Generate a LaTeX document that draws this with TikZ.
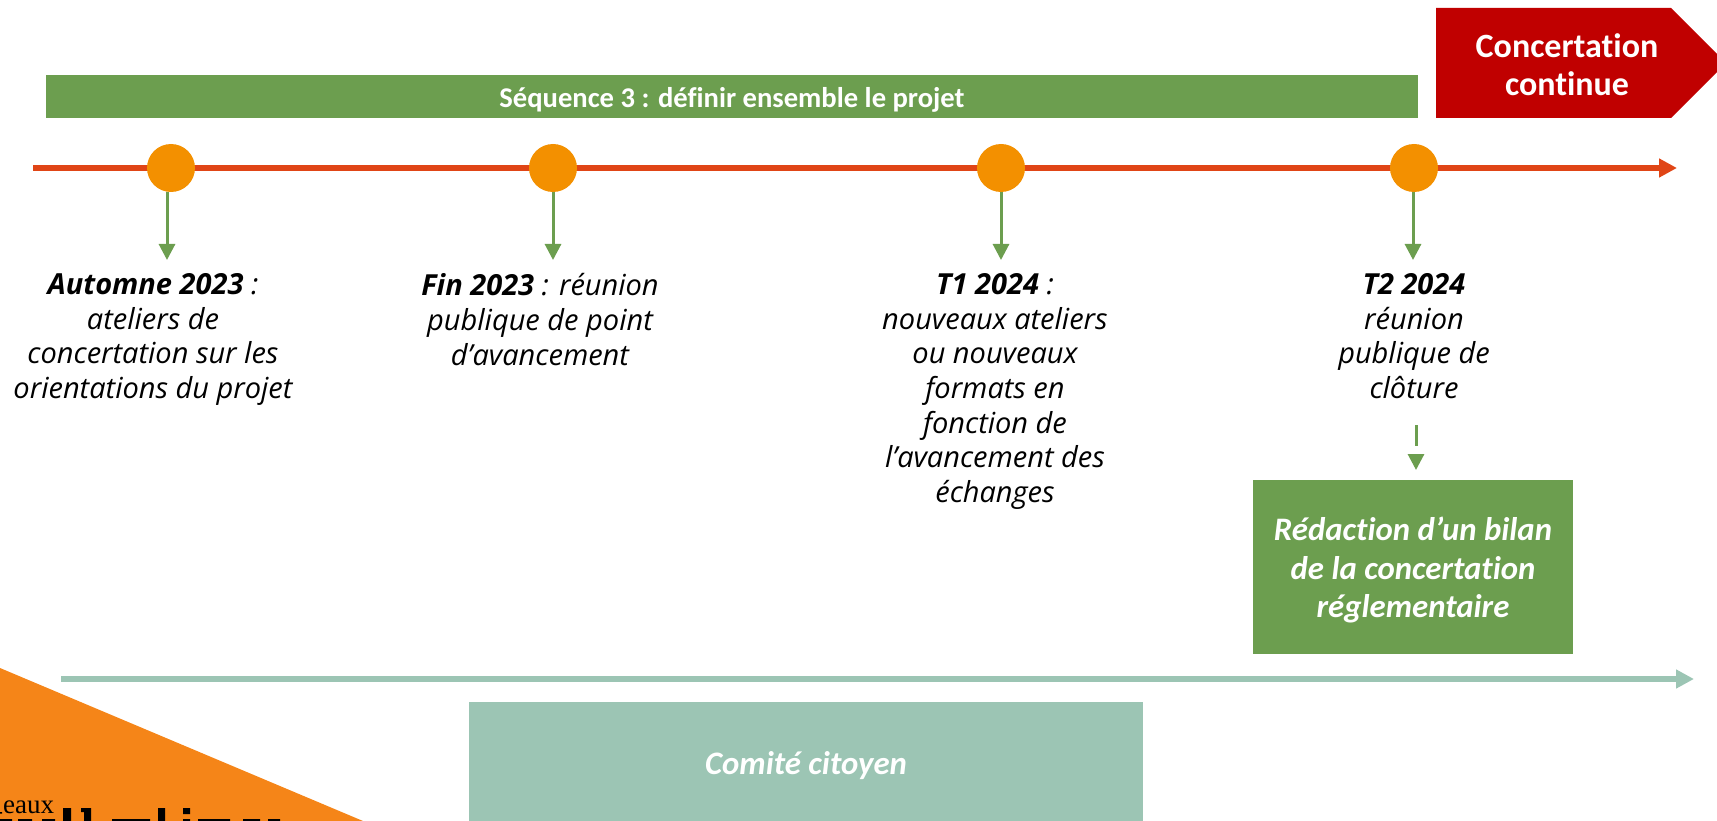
\documentclass[tikz,border=0pt]{standalone}
\usepackage{fontspec}
\setmainfont{Open Sans}
\newfontfamily\carlito[Ligatures=NoCommon]{Carlito}
\newfontfamily\timesf{Liberation Serif}
\usetikzlibrary{arrows.meta}
\definecolor{gbar}{HTML}{6C9E4F}
\definecolor{lineRed}{HTML}{E04516}
\definecolor{dot}{HTML}{F39000}
\definecolor{teal}{HTML}{9CC5B4}
\definecolor{tri}{HTML}{F58518}
\definecolor{crimson}{HTML}{C00000}
\tikzset{
  x=1pt,y=-1pt,
  stem/.style={draw=gbar,line width=3pt,-{Triangle[width=16pt,length=16pt]}},
  axis/.style={line width=6pt,-{Triangle[width=18pt,length=18pt]}},
  dotnode/.style={circle,fill=dot,minimum size=48pt,inner sep=0pt},
  lbl/.style={align=center,anchor=north,inner sep=0pt,font=\fontsize{29pt}{34.6pt}\selectfont\itshape},
  band/.style={inner sep=0pt,anchor=north west,text=white,align=center},
}
\begin{document}
\begin{tikzpicture}
\useasboundingbox (0,0) rectangle (1717,821);
% orange corner
\fill[tri] (0,668) -- (363,821) -- (0,821) -- cycle;
\node[anchor=base west,inner sep=0pt,font=\timesf\fontsize{27pt}{27pt}\selectfont] (small) at (3,813) {eaux};
% cropped logo fragments
\fill[black] (0,812) rectangle (2,813.5)
  (0,819) rectangle (12,821) (18,819) rectangle (32,821) (42,819) rectangle (55,821)
  (63,808) rectangle (71,821) (81,808) rectangle (91,812) (84,808) rectangle (91,821)
  (112,819) rectangle (150,821) (158,808) rectangle (165,821)
  (183,808) rectangle (190,814) (183,819) rectangle (190,821)
  (198,819) rectangle (230,821) (243,819) rectangle (260,821) (268,819) rectangle (280,821);
% top band
\node[band,fill=gbar,minimum width=1372pt,minimum height=43pt] (bar) at (46,75) {};
\node[text=white,inner sep=0pt,font=\carlito\fontsize{28.6pt}{30pt}\selectfont\bfseries] (bartext) at (732,99.5) {Séquence 3 : définir ensemble le projet};
% red tag
\fill[crimson] (1436,8) -- (1671,8) -- (1717,54) -- (1717,72) -- (1671,118) -- (1436,118) -- cycle;
\node[text=white,align=center,inner sep=0pt,font=\carlito\fontsize{34pt}{38pt}\selectfont\bfseries] (tag) at (1567,65) {Concertation\\continue};
% timeline
\coordinate (rs) at (33,168);
\coordinate (re) at (1677,168);
\draw[axis,draw=lineRed] (rs) -- (re);
\node[dotnode] (d1) at (171,168) {};
\node[dotnode] (d2) at (553,168) {};
\node[dotnode] (d3) at (1001,168) {};
\node[dotnode] (d4) at (1414,168) {};
% labels
\node[lbl] (t1) at (153,273.5) {\textbf{Automne 2023} :\\ateliers de\\concertation sur les\\orientations du projet};
\node[lbl] (t2) at (540,273.5) {\textbf{Fin 2023} : réunion\\publique de point\\d’avancement};
\node[lbl] (t3) at (995,273.5) {\textbf{T1 2024} :\\nouveaux ateliers\\ou nouveaux\\formats en\\fonction de\\l’avancement des\\échanges};
\node[lbl] (t4) at (1414,273.5) {\textbf{T2 2024}\\réunion\\publique de\\clôture};
% stems
\coordinate (e1) at (167,260);
\coordinate (e2) at (553,260);
\coordinate (e3) at (1001,260);
\coordinate (e4) at (1413,260);
\draw[stem] (d1.south -| e1) -- (e1);
\draw[stem] (d2.south -| e2) -- (e2);
\draw[stem] (d3.south -| e3) -- (e3);
\draw[stem] (d4.south -| e4) -- (e4);
% synthesis box
\node[band,fill=gbar,minimum width=320pt,minimum height=174pt] (bilan) at (1253,480) {};
\node[text=white,align=center,inner sep=0pt,font=\carlito\fontsize{32.8pt}{38.9pt}\selectfont\bfseries\itshape] (bilantext) at (1413,570) {Rédaction d’un bilan\\de la concertation\\réglementaire};
\coordinate (ds) at (1416,425);
\coordinate (de) at (1416,470);
\draw[stem,dash pattern=on 21pt off 30pt] (ds) -- (de);
% teal axis
\coordinate (ts) at (61,679);
\coordinate (te) at (1694,679);
\draw[axis,draw=teal] (ts) -- (te);
\node[band,fill=teal,minimum width=674pt,minimum height=119pt] (comite) at (469,702) {};
\node[text=white,inner sep=0pt,font=\carlito\fontsize{32.8pt}{38pt}\selectfont\bfseries\itshape] (comitetext) at (806,766) {Comité citoyen};
\end{tikzpicture}
\end{document}
